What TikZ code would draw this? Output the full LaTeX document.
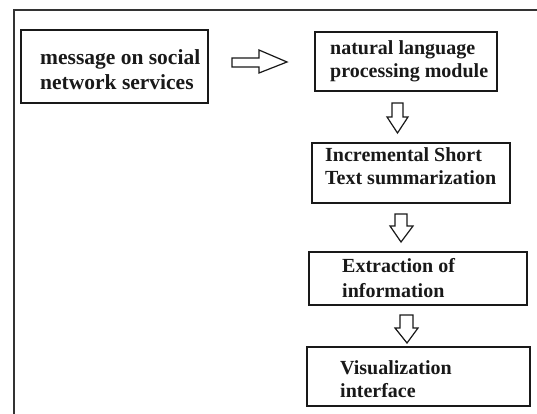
\documentclass[tikz,border=0pt]{standalone}
\usepackage{fontspec}
\setmainfont{Liberation Serif}
\begin{document}
\begin{tikzpicture}[x=1pt,y=-1pt,
  frame/.style={draw=black!80,line width=1.2pt},
  box/.style={draw=black!90,line width=1.5pt},
  label/.style={font=\fontsize{20}{23}\selectfont\bfseries,text=black!90,
    align=left,inner sep=0pt,anchor=base west},
  biglabel/.style={label,font=\fontsize{21.5}{25}\selectfont\bfseries},
  blockarrow/.style={draw=black!90,line width=1.2pt,fill=white,line join=miter}]
\useasboundingbox (0,0) rectangle (537,414);

% outer frame (top and left edges)
\draw[frame] (14,414) -- (14,10) -- (537,10);

% boxes
\draw[box] (21,30) rectangle (208,103);
\draw[box] (315,32) rectangle (497,91);
\draw[box] (312,143) rectangle (510,203);
\draw[box] (309,252) rectangle (527,305);
\draw[box] (307,347) rectangle (530,406);

% box texts (anchored at the baseline of the last line)
\node[biglabel] (t1) at (40,90) {message on social\\network services};
\node[label] (t2) at (330,78) {natural language\\processing module};
\node[label] (t3) at (325,184) {Incremental Short\\Text summarization};
\node[label,font=\fontsize{20}{25}\selectfont\bfseries] (t4) at (342,297) {Extraction of\\information};
\node[label] (t5) at (340,397) {Visualization\\interface};

% hollow block arrows
\draw[blockarrow] (232,58) -- (259,58) -- (259,50) -- (287,62) -- (259,73)
  -- (259,67) -- (232,67) -- cycle;
\draw[blockarrow] (392,103) -- (403,103) -- (403,117) -- (408,117) -- (397.5,133)
  -- (387,117) -- (392,117) -- cycle;
\draw[blockarrow] (395,214) -- (407,214) -- (407,226) -- (413,226) -- (401,242)
  -- (390,226) -- (395,226) -- cycle;
\draw[blockarrow] (400,315) -- (413,315) -- (413,328) -- (418,328) -- (407,343)
  -- (395,328) -- (400,328) -- cycle;
\end{tikzpicture}
\end{document}
